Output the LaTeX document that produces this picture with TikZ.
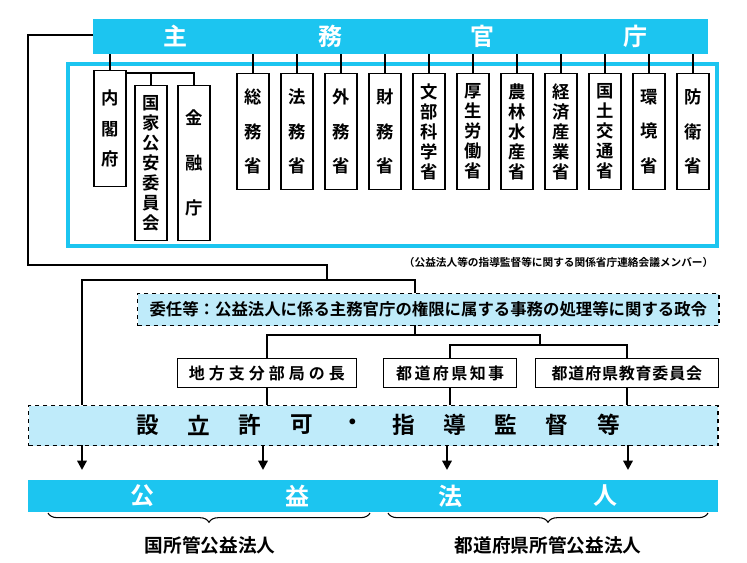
\documentclass[tikz,border=0pt]{standalone}
\usepackage{fontspec}
\setmainfont{Noto Sans CJK JP Bold}
\usetikzlibrary{decorations.pathreplacing,arrows.meta}
\definecolor{headcyan}{HTML}{1CC5F0}
\definecolor{palecyan}{HTML}{BFEBFA}
\tikzset{
  ministry/.style={draw, thick, fill=white, minimum width=24pt, inner sep=0pt, anchor=north, align=center, font=\fontsize{13}{15}\selectfont},
  office/.style={draw, thick, fill=white, minimum height=22pt, inner sep=0pt, anchor=north west, font=\fontsize{12}{13}\selectfont\addfontfeature{LetterSpace=12}},
  wire/.style={line width=1.6pt},
  thinwire/.style={line width=0.8pt},
  dashbox/.style={draw, dashed, line width=1pt, fill=palecyan, inner sep=0pt, anchor=north west}
}
\begin{document}
\begin{tikzpicture}[x=0.75pt,y=-0.75pt]
  \useasboundingbox (0,0) rectangle (747,562);

  % header
  \node[fill=headcyan, minimum width=461pt, minimum height=26pt, inner sep=0pt, anchor=north west] (head) at (93,19) {};
  \foreach \t/\x in {主/175, 務/330, 官/482, 庁/635}
    \node[text=white, font=\fontsize{18}{18}\selectfont] at (\x,36) {\t};

  % ministries frame
  \draw[headcyan, line width=3pt] (68,64) rectangle (717,246);

  % cabinet office group
  \node[ministry, minimum height=87pt] (naikaku) at (110,70) {内\\[8pt]閣\\[8pt]府};
  \node[ministry, minimum height=116pt] (kokka) at (151,85) {国\\家\\公\\安\\委\\員\\会};
  \node[ministry, minimum height=116pt] (kinyu) at (194,85) {金\\[19pt]融\\[19pt]庁};
  \draw[thinwire] (head.south -| naikaku) -- (naikaku.north);
  \draw[thinwire] (naikaku.north east) ++(0,3) coordinate (nk) -- (nk -| kinyu) -- (kinyu.north);
  \draw[thinwire] (nk -| kokka) -- (kokka.north);

  % ministries
  \foreach \n/\x/\t in {
      somu/253/{総\\[11pt]務\\[11pt]省},
      homu/297/{法\\[11pt]務\\[11pt]省},
      gaimu/341/{外\\[11pt]務\\[11pt]省},
      zaimu/385/{財\\[11pt]務\\[11pt]省},
      monbu/429/{文\\部\\科\\学\\省},
      kosei/473/{厚\\生\\労\\働\\省},
      norin/517/{農\\林\\水\\産\\省},
      keizai/561/{経\\済\\産\\業\\省},
      kokudo/605/{国\\土\\交\\通\\省},
      kankyo/649/{環\\[11pt]境\\[11pt]省},
      boei/693/{防\\[11pt]衛\\[11pt]省}}
  {
    \node[ministry, minimum height=87pt] (\n) at (\x,73) {\t};
    \draw[thinwire] (head.south -| \n) -- (\n.north);
  }

  \node[anchor=east, font=\fontsize{8}{9}\selectfont] (note) at (718,262) {（公益法人等の指導監督等に関する関係省庁連絡会議メンバー）};

  % delegation order
  \node[dashbox, minimum width=436pt, minimum height=24pt] (order) at (137,293) {};
  \node[font=\fontsize{12.3}{13}\selectfont] at (order.center) {委任等：公益法人に係る主務官庁の権限に属する事務の処理等に関する政令};

  % offices
  \node[office, minimum width=134pt] (chiho) at (177,358) {};
  \node[office, minimum width=100pt] (chiji) at (383,358) {};
  \node[office, minimum width=137pt] (kyoiku) at (535,358) {};
  \node[font=\fontsize{12}{13}\selectfont\addfontfeature{LetterSpace=25}] at (chiho.center) {地方支分部局の長};
  \node[font=\fontsize{12}{13}\selectfont\addfontfeature{LetterSpace=15}] at (chiji.center) {都道府県知事};
  \node[font=\fontsize{12}{13}\selectfont\addfontfeature{LetterSpace=5}] at (kyoiku.center) {都道府県教育委員会};

  % permission and supervision
  \node[dashbox, minimum width=517pt, minimum height=30pt] (kyoka) at (28,405) {};
  \foreach \t/\x in {設/148, 立/199, 許/250, 可/302, ・/353, 指/404, 導/455, 監/506, 督/557, 等/609}
    \node[font=\fontsize{17}{17}\selectfont] at (\x,425) {\t};

  % public interest corporations
  \node[fill=headcyan, minimum width=517pt, minimum height=24pt, inner sep=0pt, anchor=north west] (hojin) at (28,480) {};
  \foreach \t/\x in {公/142, 益/297, 法/450, 人/605}
    \node[text=white, font=\fontsize{18}{18}\selectfont] at (\x,496) {\t};

  % wires
  \coordinate (lw) at (28,35);
  \draw[wire] (head.west |- lw) -- (lw) -- (28,265) -- (327,265) -- (327,280);
  \draw[wire] (82,405) -- (82,280) -- (415,280) -- (order.north -| 415,0);
  \draw[wire] (415,325) -- (415,335) coordinate (oc);
  \draw[wire] (chiho.north) -- (chiho.north |- oc) -- (540,335) -- (540,345) coordinate (pc);
  \draw[wire] (chiji.north) -- (chiji.north |- pc) -- (kyoiku.north |- pc) -- (kyoiku.north);
  \foreach \b in {chiho, chiji, kyoiku}
    \draw[wire] (\b.south) -- (\b.south |- kyoka.north);

  % arrows
  \foreach \x in {82, 263, 447, 628}
    \draw[wire, -{Triangle[length=7pt,width=7pt]}] (\x,445) -- (\x,470);

  % braces
  \draw[thinwire, decorate, decoration={brace, mirror, amplitude=7pt}] (48,513) -- (370,513);
  \draw[thinwire, decorate, decoration={brace, mirror, amplitude=7pt}] (388,513) -- (708,513);
  \node[font=\fontsize{14}{15}\selectfont] (kuni) at (210,545) {国所管公益法人};
  \node[font=\fontsize{14}{15}\selectfont] (todofuken) at (548,545) {都道府県所管公益法人};
\end{tikzpicture}
\end{document}
